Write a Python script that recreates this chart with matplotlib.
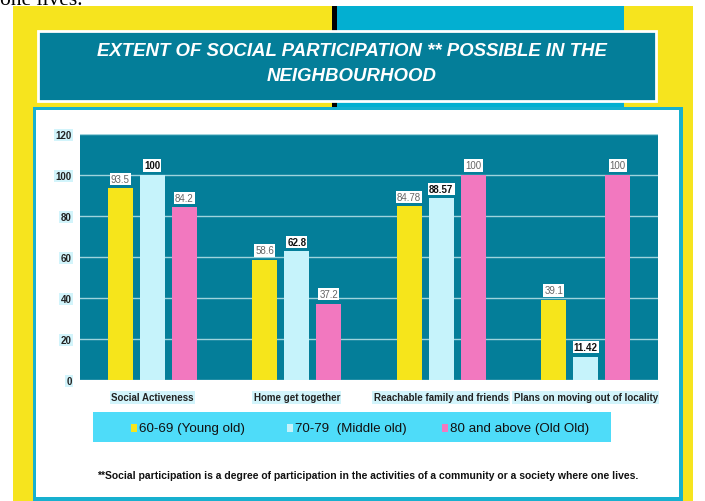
import matplotlib
matplotlib.use("Agg")
import matplotlib.pyplot as plt
from matplotlib import font_manager
from matplotlib.patches import Rectangle
import numpy as np

# ---------------- data ----------------
categories = ["Social Activeness", "Home get together",
              "Reachable family and friends", "Plans on moving out of locality"]
series_names = ["60-69 (Young old)", "70-79  (Middle old)", "80 and above (Old Old)"]
young_old = [93.5, 58.6, 84.78, 39.1]
middle_old = [100, 62.8, 88.57, 11.42]
old_old = [84.2, 37.2, 100, 100]
label_young = ["93.5", "58.6", "84.78", "39.1"]
label_middle = ["100", "62.8", "88.57", "11.42"]
label_old = ["84.2", "37.2", "100", "100"]
y_ticks = [0, 20, 40, 60, 80, 100, 120]
title_text = "EXTENT OF SOCIAL PARTICIPATION ** POSSIBLE IN THE\nNEIGHBOURHOOD"
footnote = ("**Social participation is a degree of participation in the activities "
            "of a community or a society where one lives.")

# ---------------- fonts ----------------
avail = {f.name for f in font_manager.fontManager.ttflist}
def pick(*names):
    for n in names:
        if n in avail:
            return n
    return "DejaVu Sans"
NARROW = pick("Liberation Sans Narrow", "Liberation Sans")
SERIF = pick("Liberation Serif", "DejaVu Serif")

# ---------------- colours ----------------
C_YEL_BG = "#F6E41E"
C_TOP_TEAL = "#03AFD1"
C_TITLE = "#047E99"
C_BORDER = "#17B0CF"
C_PLOT = "#047E99"
C_GRID = "#9FD3DC"
BAR_COLORS = ["#F6E51B", "#C6F3FB", "#F278BF"]
C_LEGEND = "#4EDCF9"
C_LBLBG = "#D2F4FB"

W, H = 705, 502
fig = plt.figure(figsize=(W / 100, H / 100), dpi=100)
fig.patch.set_facecolor("white")

bg = fig.add_axes([0, 0, 1, 1])
bg.set_xlim(0, W)
bg.set_ylim(H, 0)
bg.axis("off")

def rect(x0, y0, x1, y1, **kw):
    bg.add_patch(Rectangle((x0, y0), x1 - x0, y1 - y0, **kw))

# page background pieces
rect(13, 7, 693, H, facecolor=C_YEL_BG, edgecolor="none")
rect(337, 7, 624, 110, facecolor=C_TOP_TEAL, edgecolor="none")
rect(332, 7, 337, 110, facecolor="black", edgecolor="none")
bg.text(0, 5, "one lives.", fontsize=15.5, family=SERIF, ha="left",
        va="baseline", color="black")

# title box
rect(38, 32, 656, 102, facecolor=C_TITLE, edgecolor="white", linewidth=2)
bg.text(352, 64, title_text, ha="center", va="center", color="white",
        fontsize=13.4, family=NARROW, fontweight="bold", fontstyle="italic",
        linespacing=1.6)

# chart box
rect(33, 108, 683, 502, facecolor=C_BORDER, edgecolor="none")
rect(36, 111, 679, 498, facecolor="white", edgecolor="none")

# legend box
rect(93, 413, 611, 443, facecolor=C_LEGEND, edgecolor="none")
leg_x = [131, 287, 442]
for xm, name, col in zip(leg_x, series_names, BAR_COLORS):
    rect(xm, 425, xm + 6, 433, facecolor=col, edgecolor="none")
    bg.text(xm + 8, 429, name, ha="left", va="center", fontsize=9.6,
            family=NARROW, color="#111111")

# footnote
bg.text(368, 476, footnote, ha="center", va="center", fontsize=7.5,
        family=NARROW, fontweight="bold", color="#111111")

# ---------------- bar chart ----------------
ax = fig.add_axes([80 / W, (H - 381) / H, 578 / W, 246 / H])
ax.set_facecolor(C_PLOT)
x = np.arange(len(categories))
bw = 0.173
offs = [-0.222, 0.0, 0.222]
series = [young_old, middle_old, old_old]
labels = [label_young, label_middle, label_old]
for i, (vals, labs, col, off) in enumerate(zip(series, labels, BAR_COLORS, offs)):
    ax.bar(x + off, vals, width=bw, color=col, zorder=3)
    for xi, v, lab in zip(x + off, vals, labs):
        bold = (i == 1)
        ax.text(xi, v + 2.2, lab, ha="center", va="bottom", fontsize=7,
                family=NARROW, fontweight="bold" if bold else "normal",
                color="#111111" if bold else "#666666", zorder=4,
                bbox=dict(boxstyle="square,pad=0.12", facecolor="white",
                          edgecolor="none"))

ax.set_xlim(-0.5, 3.5)
ax.set_ylim(0, 120)
ax.set_yticks(y_ticks)
ax.set_yticklabels([str(t) for t in y_ticks])
ax.set_xticks(x)
ax.set_xticklabels(categories)
ax.yaxis.grid(True, color=C_GRID, linewidth=1, zorder=1)
ax.set_axisbelow(True)
for s in ax.spines.values():
    s.set_visible(False)
ax.tick_params(axis="both", length=0)
ax.tick_params(axis="y", pad=6)
ax.tick_params(axis="x", pad=9)
for lbl in ax.get_yticklabels() + ax.get_xticklabels():
    lbl.set_fontfamily(NARROW)
    lbl.set_fontweight("bold")
    lbl.set_fontsize(7)
    lbl.set_color("#222222")
    lbl.set_bbox(dict(boxstyle="square,pad=0.15", facecolor=C_LBLBG,
                      edgecolor="none"))

fig.savefig("out.png", dpi=100, facecolor=fig.get_facecolor())
